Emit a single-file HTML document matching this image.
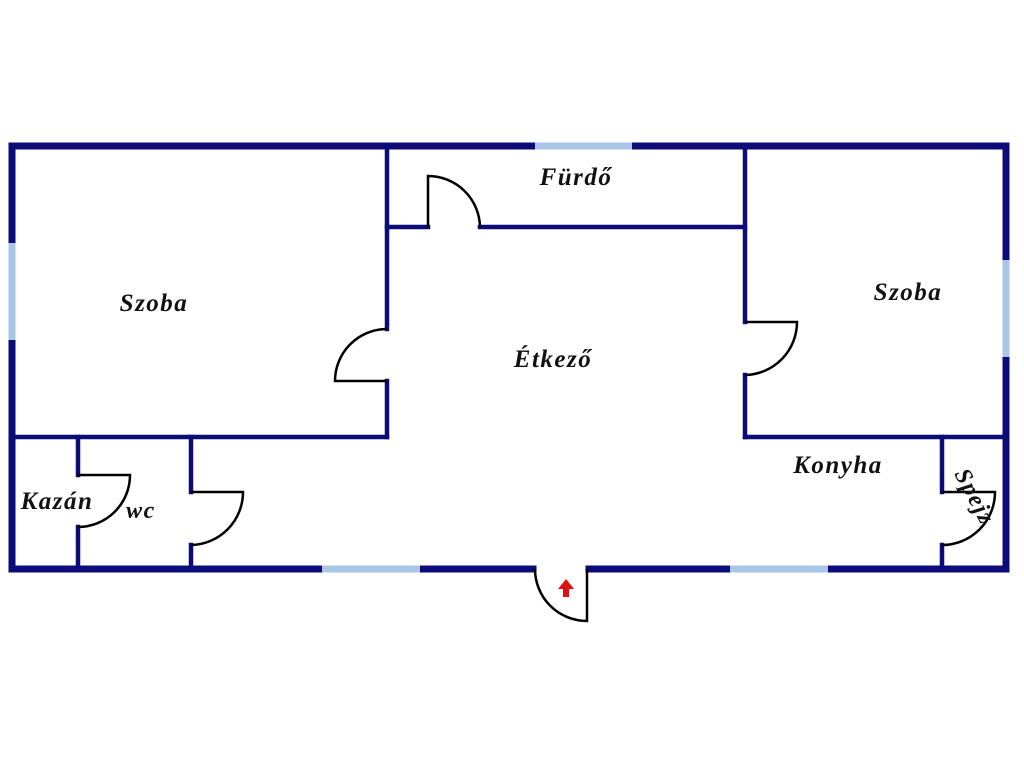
<!DOCTYPE html>
<html><head><meta charset="utf-8"><style>
html,body{margin:0;padding:0;background:#fff;}
svg{display:block}
text{font-family:"Liberation Serif",serif;font-weight:bold;font-style:italic;fill:#111;letter-spacing:1.5px;}
</style></head><body>
<svg width="1024" height="768" viewBox="0 0 1024 768" xmlns="http://www.w3.org/2000/svg">
<g stroke="#0c0c78" fill="none" stroke-linecap="square">
  <g stroke-width="7">
    <line x1="12" y1="146" x2="1006" y2="146"/>
    <line x1="12" y1="146" x2="12" y2="569"/>
    <line x1="1006" y1="146" x2="1006" y2="569"/>
    <line x1="12" y1="569" x2="533" y2="569"/>
    <line x1="589" y1="569" x2="1006" y2="569"/>
  </g>
  <g stroke="#a8c6e6" stroke-width="7" stroke-linecap="butt">
    <line x1="535" y1="146" x2="632" y2="146"/>
    <line x1="12" y1="243" x2="12" y2="340"/>
    <line x1="1006" y1="260" x2="1006" y2="357"/>
    <line x1="322" y1="569" x2="420" y2="569"/>
    <line x1="730" y1="569" x2="828" y2="569"/>
  </g>
  <g stroke-width="4.5">
    <line x1="387" y1="146" x2="387" y2="329"/>
    <line x1="387" y1="381" x2="387" y2="437"/>
    <line x1="387" y1="227" x2="428" y2="227"/>
    <line x1="480" y1="227" x2="745" y2="227"/>
    <line x1="745" y1="146" x2="745" y2="322"/>
    <line x1="745" y1="375" x2="745" y2="437"/>
    <line x1="12" y1="437" x2="387" y2="437"/>
    <line x1="745" y1="437" x2="1006" y2="437"/>
    <line x1="78" y1="437" x2="78" y2="475"/>
    <line x1="78" y1="527" x2="78" y2="569"/>
    <line x1="191" y1="437" x2="191" y2="492"/>
    <line x1="191" y1="545" x2="191" y2="569"/>
    <line x1="942" y1="437" x2="942" y2="492"/>
    <line x1="942" y1="545" x2="942" y2="569"/>
  </g>
</g>
<g stroke="#000" stroke-width="2.5" fill="none">
  <path d="M387 329 A52 52 0 0 0 335 381 L387 381"/>
  <path d="M428 227 L428 176 A52 52 0 0 1 480 227"/>
  <path d="M745 322 L797 322 A53 53 0 0 1 745 375"/>
  <path d="M78 475 L130 475 A52 52 0 0 1 78 527"/>
  <path d="M191 492 L243 492 A53 53 0 0 1 191 545"/>
  <path d="M942 492 L995 492 A53 53 0 0 1 942 545"/>
  <path d="M535 569 A52 52 0 0 0 587 621 L587 569"/>
</g>
<path d="M566 579 L574 589 L569 589 L569 597 L563 597 L563 589 L558 589 Z" fill="#e01010"/>
<text x="154" y="311" font-size="25" text-anchor="middle">Szoba</text>
<text x="553" y="367" font-size="25" text-anchor="middle">Étkező</text>
<text x="908" y="300" font-size="25" text-anchor="middle">Szoba</text>
<text x="576" y="185" font-size="25" text-anchor="middle">Fürdő</text>
<text x="838" y="473" font-size="25" text-anchor="middle">Konyha</text>
<text x="57" y="509" font-size="25" text-anchor="middle">Kazán</text>
<text x="141" y="518" font-size="24" text-anchor="middle">wc</text>
<text x="0" y="0" font-size="24" text-anchor="middle" transform="translate(968 500) rotate(62)">Spejz</text>
</svg>
</body></html>
